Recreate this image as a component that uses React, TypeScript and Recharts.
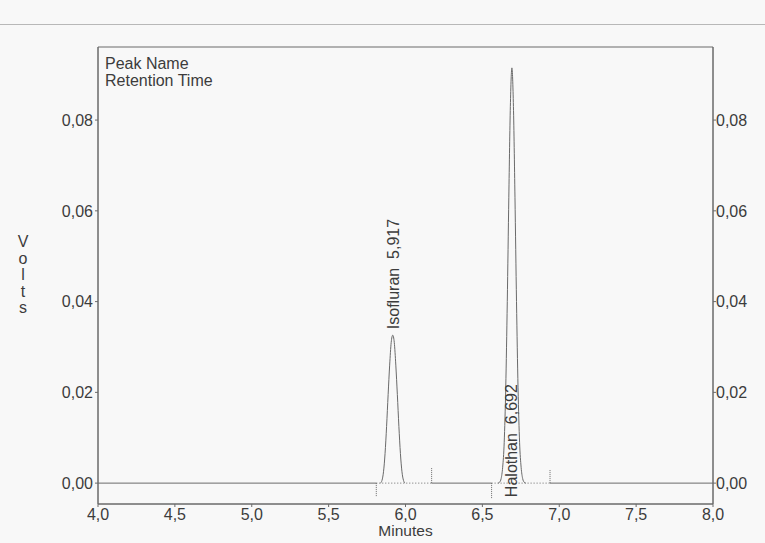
import React from 'react';
import { LineChart, Line, XAxis, YAxis, ReferenceLine, ReferenceDot, ReferenceArea } from 'recharts';

// x axis (minutes) and y axis (volts) ticks
const xTicks = [4.0, 4.5, 5.0, 5.5, 6.0, 6.5, 7.0, 7.5, 8.0];
const yTicks = [0, 0.02, 0.04, 0.06, 0.08];

// flat baseline pieces outside the integration windows
const baseTimes = [[4.0, 5.81], [6.17, 6.56], [6.94, 8.0]];

// Isofluran peak
const isoTimes = [5.837, 5.847, 5.857, 5.867, 5.877, 5.887, 5.897, 5.907, 5.917, 5.927, 5.937, 5.947, 5.957, 5.967, 5.977, 5.987, 5.997];
const isoVolts = [0, 0.0006, 0.0025, 0.0065, 0.0125, 0.0195, 0.026, 0.031, 0.0326, 0.031, 0.026, 0.0195, 0.0125, 0.0065, 0.0025, 0.0006, 0];

// Halothan peak
const haloTimes = [6.602, 6.612, 6.622, 6.632, 6.642, 6.652, 6.662, 6.672, 6.682, 6.692, 6.702, 6.712, 6.722, 6.732, 6.742, 6.752, 6.762, 6.772, 6.782];
const haloVolts = [0, 0.0002, 0.001, 0.0035, 0.009, 0.021, 0.04, 0.063, 0.083, 0.0915, 0.083, 0.063, 0.04, 0.021, 0.009, 0.0035, 0.001, 0.0002, 0];

// integration windows (dotted baseline) and their delimiter marks
const windowTimes = [[5.81, 6.17], [6.56, 6.94]];
const markerTimes = [5.81, 6.17, 6.56, 6.94];
const markerEnds = [-0.003, 0.0035, -0.0033, 0.003];

// peak annotations
const peakNames = ['Isofluran', 'Halothan'];
const peakTimes = [5.917, 6.692];
const peakLabelY = [0.0326, 0];

const yMin = -0.0046;
const yMax = 0.0961;

const FONT = '"Liberation Sans", Arial, sans-serif';
const INK = '#3c3c3c';
const LINE = '#6a6a6a';
const FS = 16;

const comma = (v: number, d: number) => v.toFixed(d).replace('.', ',');

const toPoints = (ts: number[], vs: number[]) => ts.map((t, i) => ({ t, v: vs[i] }));

const PeakLabel = (props: any) => {
  const { viewBox, text, dx, dy } = props;
  const cx = viewBox.x + viewBox.width / 2;
  const cy = viewBox.y + viewBox.height / 2;
  const x = cx + dx;
  const y = cy + dy;
  return (
    <text
      x={x}
      y={y}
      transform={`rotate(-90 ${x} ${y})`}
      textAnchor="start"
      fontSize={FS}
      fontFamily={FONT}
      fill={INK}
      style={{ whiteSpace: 'pre' }}
    >
      {text}
    </text>
  );
};

const VoltsLabel = () => (
  <text x={23} y={247} textAnchor="middle" fontSize={FS} fontFamily={FONT} fill={INK}>
    {['V', 'o', 'l', 't', 's'].map((c, i) => (
      <tspan key={i} x={23} dy={i === 0 ? 0 : 16.5}>
        {c}
      </tspan>
    ))}
  </text>
);

export default function App() {
  return (
    <div style={{ position: 'absolute', left: 0, top: 0, width: 765, height: 543, background: '#f8f8f8' }}>
      <div style={{ position: 'absolute', left: 0, top: 24, width: 765, height: 0, borderTop: '1px solid #b8b8b8' }} />
      <LineChart width={765} height={543} margin={{ top: 47, right: 2, left: 38, bottom: 9 }}>
        <XAxis
          dataKey="t"
          type="number"
          domain={[4, 8]}
          ticks={xTicks}
          tickFormatter={(v: number) => comma(v, 1)}
          allowDataOverflow
          height={30}
          tickSize={3}
          tick={{ fontSize: FS, fontFamily: FONT, fill: INK }}
          stroke={LINE}
          label={{ value: 'Minutes', position: 'insideBottom', offset: -2, fontSize: 15.5, fontFamily: FONT, fill: INK }}
        />
        <YAxis
          yAxisId="left"
          type="number"
          domain={[yMin, yMax]}
          ticks={yTicks}
          tickFormatter={(v: number) => comma(v, 2)}
          allowDataOverflow
          width={60}
          tickSize={3}
          tick={{ fontSize: FS, fontFamily: FONT, fill: INK }}
          stroke={LINE}
          label={<VoltsLabel />}
        />
        <YAxis
          yAxisId="right"
          orientation="right"
          type="number"
          domain={[yMin, yMax]}
          ticks={yTicks}
          tickFormatter={(v: number) => comma(v, 2)}
          allowDataOverflow
          width={50}
          tickSize={3}
          tickMargin={0}
          tick={{ fontSize: FS, fontFamily: FONT, fill: INK }}
          stroke={LINE}
        />
        <ReferenceArea yAxisId="left" x1={4} x2={8} y1={yMin} y2={yMax} fill="none" stroke={LINE} strokeWidth={1} />

        {baseTimes.map((b, i) => (
          <Line
            key={`base-${i}`}
            yAxisId="left"
            data={toPoints(b, [0, 0])}
            dataKey="v"
            stroke={LINE}
            strokeWidth={1}
            dot={false}
            isAnimationActive={false}
          />
        ))}
        {windowTimes.map((w, i) => (
          <Line
            key={`win-${i}`}
            yAxisId="left"
            data={toPoints(w, [0, 0])}
            dataKey="v"
            stroke={LINE}
            strokeWidth={1}
            strokeDasharray="1 2"
            dot={false}
            isAnimationActive={false}
          />
        ))}
        {markerTimes.map((t, i) => (
          <ReferenceLine
            key={`mk-${i}`}
            yAxisId="left"
            segment={[{ x: t, y: 0 }, { x: t, y: markerEnds[i] }]}
            stroke={LINE}
            strokeDasharray="1 1"
          />
        ))}
        <Line
          yAxisId="left"
          data={toPoints(isoTimes, isoVolts)}
          dataKey="v"
          type="monotone"
          stroke={LINE}
          strokeWidth={1}
          dot={false}
          isAnimationActive={false}
        />
        <Line
          yAxisId="left"
          data={toPoints(haloTimes, haloVolts)}
          dataKey="v"
          type="monotone"
          stroke={LINE}
          strokeWidth={1}
          dot={false}
          isAnimationActive={false}
        />
        {peakNames.map((n, i) => (
          <ReferenceDot
            key={`lbl-${i}`}
            yAxisId="left"
            x={peakTimes[i]}
            y={peakLabelY[i]}
            r={1}
            fill="none"
            stroke="none"
            label={<PeakLabel text={`${n}  ${comma(peakTimes[i], 3)}`} dx={i === 0 ? 6 : 5} dy={i === 0 ? -6 : 14} />}
          />
        ))}
        <text x={105} y={69} fontSize={FS} fontFamily={FONT} fill={INK}>Peak Name</text>
        <text x={105} y={86} fontSize={FS} fontFamily={FONT} fill={INK}>Retention Time</text>
      </LineChart>
    </div>
  );
}
